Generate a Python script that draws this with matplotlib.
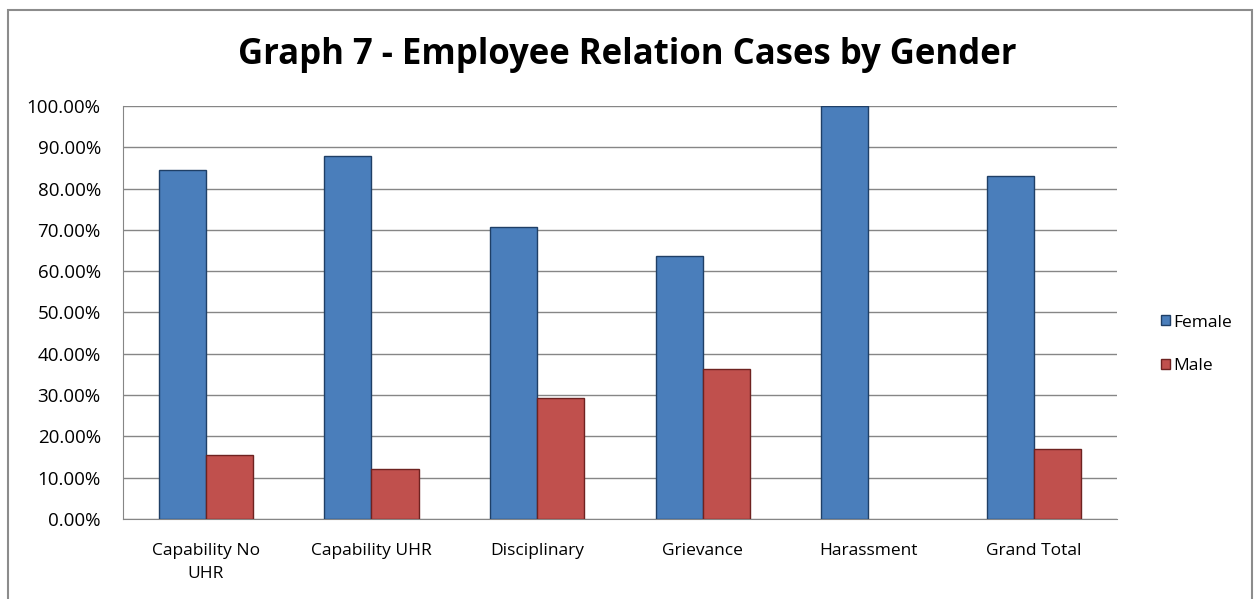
import numpy as np
import matplotlib
matplotlib.use("Agg")
import matplotlib.pyplot as plt
import matplotlib.ticker as ticker
from matplotlib.patches import Rectangle

categories = ["Capability No\nUHR", "Capability UHR", "Disciplinary",
              "Grievance", "Harassment", "Grand Total"]
female = [84.6, 88.0, 70.6, 63.6, 100.0, 83.1]
male = [15.4, 12.0, 29.4, 36.4, 0.0, 16.9]

BLUE = '#4a7ebb'
RED = '#c0504d'

plt.rcParams['font.family'] = ['Open Sans', 'DejaVu Sans']

fig = plt.figure(figsize=(12.55, 5.99), dpi=100)
ax = fig.add_axes([0.098, 0.1336, 0.792, 0.6894])

# outer chart border
fig.patches.append(Rectangle((0.006, -0.05), 0.992, 1.034, transform=fig.transFigure,
                             fill=False, edgecolor='#8c8c8c', lw=1.5))

x = np.arange(len(categories))
w = 0.285
ax.bar(x - w / 2, female, width=w, color=BLUE, edgecolor='#1f3f66', lw=1.0,
       label='Female', zorder=3)
ax.bar(x + w / 2, male, width=w, color=RED, edgecolor='#6e2220',
       lw=[1.0 if v > 0 else 0 for v in male], label='Male', zorder=3)

ax.set_xlim(-0.5, len(categories) - 0.5)
ax.set_ylim(0, 100)
ax.set_yticks(np.arange(0, 101, 10))
ax.yaxis.set_major_formatter(ticker.FuncFormatter(lambda v, _: f"{v:.2f}%"))
ax.yaxis.grid(True, color='#868686', lw=1.0, zorder=0)
ax.set_xticks(x)
ax.set_xticklabels(categories, fontsize=12.5, linespacing=1.65)
ax.tick_params(axis='y', labelsize=13.5, length=0, pad=16)
ax.tick_params(axis='x', length=0, pad=17)
for s in ['top', 'right']:
    ax.spines[s].set_visible(False)
ax.spines['left'].set_color('#868686')
ax.spines['bottom'].set_color('#868686')

fig.text(0.5, 0.908, "Graph 7 - Employee Relation Cases by Gender",
         ha='center', va='center', fontsize=25, fontweight='bold')

leg = fig.legend(loc='center left', bbox_to_anchor=(0.913, 0.425), frameon=False,
                 fontsize=12.5, handlelength=0.5, handleheight=0.5,
                 handletextpad=0.2, labelspacing=1.6)

fig.savefig("out.png", dpi=100)
